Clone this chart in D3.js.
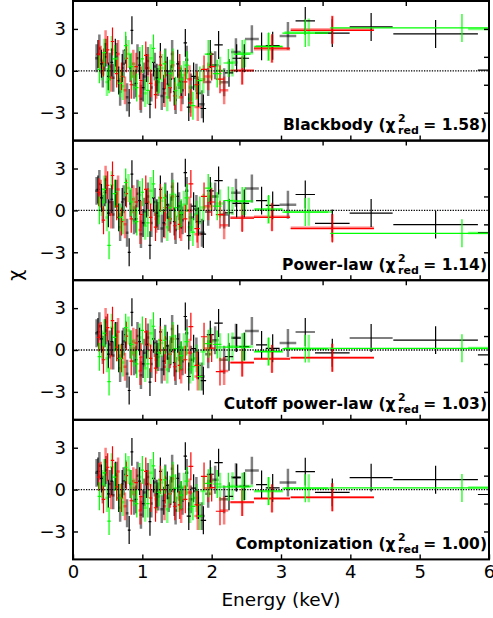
<!DOCTYPE html>
<html>
<head>
<meta charset="utf-8">
<script src="https://cdn.jsdelivr.net/npm/d3@7"></script>
<style>
  body { margin: 0; background: #fff; }
  text { font-family: "DejaVu Sans", sans-serif; }
</style>
</head>
<body>
<svg id="chart" width="493" height="618"></svg>
<script>
// panel labels
const modelNames = ['Blackbody', 'Power-law', 'Cutoff power-law', 'Comptonization']
const chi2red = ['1.58', '1.14', '1.03', '1.00']

// ticks
const xTicks = [0, 1, 2, 3, 4, 5, 6]
const topTicks = [1.2, 2.4, 3.6, 4.8]
const yTicks = [-3, 0, 3]
const rightTicks = [-3, -1, 1, 3]

// black (dark) spectrum: bin centres, half widths, residuals per panel
const blackE = [0.36,0.41,0.46,0.51,0.56,0.61,0.66,0.71,0.76,0.81,0.85,0.91,0.96,1.01,1.06,1.11,1.16,1.21,1.26,1.31,1.36,1.41,1.46,1.51,1.56,1.62,1.67,1.74,1.81,1.88,1.98,2.10,2.25,2.36,2.47,2.72,2.88,3.35,3.74,4.30,5.23,6.45]
const blackW = [0.02,0.02,0.02,0.02,0.02,0.02,0.02,0.02,0.02,0.02,0.02,0.02,0.02,0.02,0.02,0.02,0.02,0.02,0.02,0.02,0.02,0.02,0.02,0.02,0.02,0.025,0.03,0.035,0.035,0.04,0.05,0.06,0.06,0.06,0.07,0.08,0.1,0.14,0.25,0.31,0.61,0.61]
const blackP1 = [1.2,0.5,1.0,-0.4,0.6,1.3,-0.7,0.2,1.5,-2.3,2.9,-0.9,0.4,-1.2,0.2,-2.4,0.6,-0.5,1.0,-1.3,0.0,-0.6,-1.5,0.5,-0.8,2.0,-2.6,-0.4,-1.6,-2.7,1.2,1.85,-0.15,0.9,0.9,1.75,1.8,3.57,2.7,3.14,2.64,0.05]
const blackP2 = [1.5,0.9,1.3,-0.2,0.8,1.2,-0.5,0.6,1.3,-3.0,2.6,-0.6,0.7,-0.9,0.5,-2.5,0.9,-0.2,1.5,-0.9,0.4,0.0,-0.8,1.0,-0.3,2.7,-1.8,0.3,-0.8,-1.7,1.4,2.14,-0.17,0.5,0.5,0.7,0.36,1.14,-0.93,-0.19,-1.02,-1.6]
const blackP3 = [1.3,0.8,1.2,-0.3,0.6,1.0,-0.6,0.4,1.1,-2.9,2.7,-0.7,0.6,-1.0,0.4,-2.3,0.8,-0.3,1.3,-0.8,0.3,-0.1,-0.9,0.8,-0.4,2.4,-1.9,0.1,-1.1,-2.2,1.1,1.93,-0.48,0.86,0.24,0.36,0.12,1.29,-0.2,0.86,0.71,-0.35]
const blackP4 = [1.3,0.8,1.2,-0.3,0.6,1.0,-0.6,0.4,1.1,-2.9,2.7,-0.7,0.6,-1.0,0.4,-2.3,0.8,-0.3,1.3,-0.8,0.3,-0.1,-0.9,0.8,-0.4,2.4,-1.9,0.1,-1.1,-2.2,1.1,1.93,-0.48,0.86,0.24,0.36,0.12,1.29,-0.2,0.86,0.71,-0.35]

// grey (light black)
const greyE = [0.34,0.38,0.43,0.48,0.53,0.58,0.63,0.68,0.73,0.78,0.83,0.88,0.93,0.98,1.03,1.08,1.13,1.18,1.23,1.28,1.33,1.38,1.43,1.48,1.53,1.58,1.64,1.70,1.78,1.86,1.95,2.05,2.18,2.35,2.58,3.10]
const greyW = [0.02,0.02,0.02,0.02,0.02,0.02,0.02,0.02,0.02,0.02,0.02,0.02,0.02,0.02,0.02,0.02,0.02,0.02,0.02,0.02,0.02,0.02,0.02,0.02,0.02,0.02,0.025,0.03,0.035,0.04,0.045,0.05,0.06,0.07,0.1,0.12]
const greyP1 = [0.9,1.6,-0.2,1.3,0.3,-0.5,1.0,-1.5,0.5,-1.9,0.2,-1.0,0.9,-2.0,-0.4,0.7,-1.2,0.3,-0.8,-1.8,0.6,-1.0,1.2,-2.1,-0.3,-1.4,0.8,-1.2,-0.5,-2.4,-0.8,0.4,-0.82,1.34,2.27,2.5]
const greyP2 = [1.4,1.9,0.1,1.5,0.6,-0.3,1.2,-1.2,0.8,-1.6,0.5,-0.7,1.2,-1.7,-0.1,1.0,-0.9,0.6,-0.4,-1.3,1.0,-0.5,1.7,-1.4,0.3,-0.7,1.4,-0.5,0.1,-1.6,-0.1,1.0,-0.3,1.26,1.57,0.4]
const greyP3 = [1.2,1.7,0.0,1.4,0.4,-0.4,1.0,-1.3,0.6,-1.7,0.4,-0.8,1.0,-1.8,-0.2,0.9,-1.0,0.5,-0.5,-1.4,0.8,-0.6,1.5,-1.5,0.2,-0.8,1.2,-0.7,-0.1,-1.9,-0.3,0.7,-0.7,0.88,1.36,0.5]
const greyP4 = [1.2,1.7,0.0,1.4,0.4,-0.4,1.0,-1.3,0.6,-1.7,0.4,-0.8,1.0,-1.8,-0.2,0.9,-1.0,0.5,-0.5,-1.4,0.8,-0.6,1.5,-1.5,0.2,-0.8,1.2,-0.7,-0.1,-1.9,-0.3,0.7,-0.7,0.88,1.36,0.5]

// red (dark)
const redE = [0.37,0.44,0.50,0.57,0.63,0.70,0.77,0.84,0.91,0.98,1.05,1.12,1.19,1.26,1.33,1.40,1.47,1.54,1.62,1.70,1.79,1.89,2.00,2.12,2.44,2.87,3.74]
const redW = [0.025,0.025,0.025,0.025,0.025,0.025,0.025,0.025,0.025,0.025,0.025,0.025,0.025,0.025,0.025,0.025,0.025,0.03,0.03,0.035,0.04,0.045,0.05,0.06,0.17,0.26,0.6]
const redP1 = [1.2,0.6,1.5,2.1,-0.2,-0.4,0.9,-1.0,0.3,-0.7,1.1,-0.9,-1.7,0.4,-0.3,-1.2,-1.8,0.2,-0.8,-2.3,-1.0,0.1,0.3,-0.6,0.04,1.63,2.9]
const redP2 = [1.3,-0.7,1.8,2.5,0.3,-0.8,1.2,-0.6,0.6,-0.3,1.5,-0.5,-1.2,0.9,0.2,-0.6,-1.1,-1.0,-0.6,1.9,-1.3,1.0,0.6,-0.3,-0.55,-0.5,-1.3]
const redP3 = [0.9,-0.7,1.6,2.1,0.2,-0.6,1.0,-0.8,0.5,-0.5,1.3,-0.6,-1.3,0.7,0.0,-0.3,-1.2,-1.1,-0.7,1.67,-1.1,0.95,0.14,-1.55,-0.9,-0.64,-0.55]
const redP4 = [0.9,-0.7,1.6,2.1,0.2,-0.6,1.0,-0.8,0.5,-0.5,1.3,-0.6,-1.3,0.7,0.0,-0.3,-1.2,-1.1,-0.7,1.67,-1.1,0.95,0.14,-1.55,-0.9,-0.64,-0.55]

// light red
const lredE = [0.40,0.47,0.55,0.65,0.75,0.87,0.97,1.08,1.20,1.32,1.44,1.56,1.68,1.80,1.95,2.18,2.44,2.87,3.74]
const lredW = [0.025,0.025,0.025,0.025,0.025,0.025,0.025,0.025,0.025,0.025,0.025,0.03,0.04,0.05,0.06,0.06,0.17,0.26,0.6]
const lredP1 = [0.8,1.9,-0.5,1.2,-1.4,0.5,-1.8,0.2,-1.0,-1.6,0.4,-1.9,-0.6,-2.6,-0.4,-1.4,0.0,1.55,2.95]
const lredP2 = [1.2,2.2,-0.3,1.5,-1.0,0.8,-1.4,0.6,-0.6,-1.0,1.0,-1.2,0.0,-1.7,0.3,-1.07,-0.5,-0.45,-1.25]
const lredP3 = [1.0,2.0,-0.4,1.3,-1.2,0.6,-1.5,0.4,-0.7,-1.2,0.8,-1.4,-0.2,-1.9,0.1,-1.5,-0.9,-0.62,-0.55]
const lredP4 = [1.0,2.0,-0.4,1.3,-1.2,0.6,-1.5,0.4,-0.7,-1.2,0.8,-1.4,-0.2,-1.9,0.1,-1.5,-0.9,-0.62,-0.55]

// green (dark)
const greenE = [0.38,0.45,0.52,0.60,0.68,0.76,0.84,0.92,1.00,1.08,1.16,1.24,1.32,1.40,1.48,1.56,1.64,1.73,1.83,1.95,2.08,2.24,2.44,2.82,3.35,5.61]
const greenW = [0.025,0.025,0.025,0.025,0.025,0.025,0.025,0.025,0.025,0.025,0.025,0.025,0.025,0.025,0.025,0.025,0.03,0.035,0.04,0.05,0.06,0.07,0.12,0.2,0.33,1.9]
const greenP1 = [0.1,1.3,-0.6,0.85,-0.9,1.8,0.3,-1.2,0.85,-1.4,1.6,-0.6,0.5,-0.2,-1.43,-0.6,0.4,-2.5,-0.7,1.2,-0.2,0.56,1.2,1.75,2.7,3.07]
const greenP2 = [0.0,1.5,-2.5,1.2,-0.5,2.0,0.6,-0.8,1.3,-0.9,1.9,0.0,0.9,0.2,0.2,-0.2,0.9,-1.55,0.0,1.6,0.3,0.71,0.67,0.1,-0.12,-1.64]
const greenP3 = [-0.48,1.2,-2.26,0.9,-0.6,1.6,0.4,-1.0,1.4,-1.0,1.7,-0.2,0.7,0.0,0.1,-0.4,0.6,-1.2,-1.9,0.45,0.4,0.2,0.2,-0.1,0.1,0.12]
const greenP4 = [-0.48,1.2,-2.26,0.9,-0.6,1.6,0.4,-1.0,1.4,-1.0,1.7,-0.2,0.7,0.0,0.1,-0.4,0.6,-1.2,-1.9,0.45,0.4,0.2,0.2,-0.1,0.1,0.12]

// light green
const lgreenE = [0.42,0.49,0.56,0.64,0.72,0.80,0.88,0.96,1.04,1.12,1.20,1.28,1.36,1.44,1.52,1.60,1.69,1.78,1.88,1.99,2.12,2.30,2.48,2.82,3.40,6.60]
const lgreenW = [0.025,0.025,0.025,0.025,0.025,0.025,0.025,0.025,0.025,0.025,0.025,0.025,0.025,0.025,0.025,0.03,0.035,0.04,0.045,0.05,0.06,0.08,0.12,0.21,0.35,0.9]
const lgreenP1 = [0.3,-0.8,1.5,0.0,-1.1,1.2,-0.4,0.7,-1.6,0.9,-0.8,0.2,-1.9,0.6,-1.0,-0.3,-2.0,-1.1,-0.6,0.4,0.0,0.6,1.25,1.7,2.75,3.0]
const lgreenP2 = [0.6,-0.5,1.8,0.4,-0.7,1.6,0.0,1.1,-1.1,1.4,-0.3,0.7,-1.2,1.2,-0.4,0.4,-1.2,-0.3,0.2,1.0,0.5,0.67,0.65,0.05,-0.1,-1.62]
const lgreenP3 = [0.4,-0.6,1.6,0.2,-0.9,1.4,-0.2,0.9,-1.3,1.2,-0.5,0.5,-1.4,1.0,-0.6,0.2,-1.4,-0.6,-0.1,0.6,0.2,0.25,0.25,-0.12,0.1,0.15]
const lgreenP4 = [0.4,-0.6,1.6,0.2,-0.9,1.4,-0.2,0.9,-1.3,1.2,-0.5,0.5,-1.4,1.0,-0.6,0.2,-1.4,-0.6,-0.1,0.6,0.2,0.25,0.25,-0.12,0.1,0.15]

// drawing order: light ones under the dark ones
const series = [
  { E: greyE, W: greyW, P: [greyP1, greyP2, greyP3, greyP4], color: '#000000', light: true },
  { E: lredE, W: lredW, P: [lredP1, lredP2, lredP3, lredP4], color: '#ff0000', light: true },
  { E: lgreenE, W: lgreenW, P: [lgreenP1, lgreenP2, lgreenP3, lgreenP4], color: '#00ff00', light: true },
  { E: blackE, W: blackW, P: [blackP1, blackP2, blackP3, blackP4], color: '#000000', light: false },
  { E: redE, W: redW, P: [redP1, redP2, redP3, redP4], color: '#ff0000', light: false },
  { E: greenE, W: greenW, P: [greenP1, greenP2, greenP3, greenP4], color: '#00ff00', light: false }
]

const svg = d3.select('#chart')
const left = 73
const right = 489
const firstTop = 1
const panelH = 139.6

const x = d3.scaleLinear().domain([0, 6]).range([left, right])

function styleAxis (a, size) {
  a.select('.domain').remove()
  a.selectAll('.tick line').attr('stroke', '#000').attr('stroke-width', 1.4)
  a.selectAll('text').attr('font-family', '"DejaVu Sans", sans-serif').attr('font-size', size).attr('fill', '#000')
}

// bold label with chi^2_red built from pieces, right aligned
function drawLabel (g, name, val, xRight, yBase) {
  const lg = g.append('g').attr('font-weight', 'bold').attr('fill', '#000')
  const p1 = lg.append('text').attr('font-size', 15.5).text(name + ' (χ')
  const sup = lg.append('text').attr('font-size', 11).text('2')
  const sub = lg.append('text').attr('font-size', 11).text('red')
  const p2 = lg.append('text').attr('font-size', 15.5).text('= ' + val + ')')
  const w1 = p1.node().getComputedTextLength()
  const ws = Math.max(sup.node().getComputedTextLength(), sub.node().getComputedTextLength())
  const w2 = p2.node().getComputedTextLength()
  const gap = 2.5
  const x0 = xRight - (w1 + ws + w2 + 2 * gap)
  p1.attr('x', x0).attr('y', yBase)
  sup.attr('x', x0 + w1 + gap).attr('y', yBase - 8)
  sub.attr('x', x0 + w1 + gap).attr('y', yBase + 4)
  p2.attr('x', x0 + w1 + ws + 2 * gap + 2).attr('y', yBase)
}

modelNames.forEach((name, i) => {
  const top = firstTop + i * panelH
  const y = d3.scaleLinear().domain([-5, 5]).range([top + panelH, top])
  const g = svg.append('g')

  svg.append('clipPath').attr('id', 'clip' + i)
    .append('rect').attr('x', left).attr('y', top).attr('width', right - left).attr('height', panelH)

  const marks = g.append('g').attr('clip-path', `url(#clip${i})`)

  series.forEach(s => {
    const pts = s.E.map((e, j) => ({ e: e, w: s.W[j], v: s.P[i][j] }))
    const sg = marks.append('g')
      .attr('stroke', s.color)
      .attr('stroke-opacity', s.light ? 0.5 : 1)
      .attr('stroke-width', s.light ? 2.5 : 1.2)
    sg.selectAll('line.v').data(pts).join('line').attr('class', 'v')
      .attr('x1', d => x(d.e)).attr('x2', d => x(d.e))
      .attr('y1', d => y(d.v - 1)).attr('y2', d => y(d.v + 1))
    sg.selectAll('line.h').data(pts).join('line').attr('class', 'h')
      .attr('x1', d => x(d.e - d.w)).attr('x2', d => x(d.e + d.w))
      .attr('y1', d => y(d.v)).attr('y2', d => y(d.v))
  })

  // dotted zero line
  marks.append('line')
    .attr('x1', left).attr('x2', right)
    .attr('y1', y(0)).attr('y2', y(0))
    .attr('stroke', '#000').attr('stroke-width', 1.3)
    .attr('stroke-dasharray', '1.3,1.3')

  // axes, ticks pointing inward
  g.append('g').attr('transform', `translate(${left},0)`)
    .call(d3.axisLeft(y).tickValues(yTicks).tickSizeInner(-5).tickSizeOuter(0).tickPadding(7))
    .call(a => styleAxis(a, 18))
  g.append('g').attr('transform', `translate(${right},0)`)
    .call(d3.axisRight(y).tickValues(rightTicks).tickSizeInner(-5).tickSizeOuter(0).tickFormat(''))
    .call(a => styleAxis(a, 18))
  g.append('g').attr('transform', `translate(0,${top})`)
    .call(d3.axisTop(x).tickValues(topTicks).tickSizeInner(-5).tickSizeOuter(0).tickFormat(''))
    .call(a => styleAxis(a, 18))
  const bottom = d3.axisBottom(x).tickSizeInner(-5).tickSizeOuter(0).tickPadding(6)
  if (i === modelNames.length - 1) {
    bottom.tickValues(xTicks).tickFormat(d3.format('d'))
  } else {
    bottom.tickValues(xTicks.slice(1, -1)).tickFormat('')
  }
  g.append('g').attr('transform', `translate(0,${top + panelH})`)
    .call(bottom)
    .call(a => styleAxis(a, 18))

  // frame
  g.append('rect')
    .attr('x', left).attr('y', top).attr('width', right - left).attr('height', panelH)
    .attr('fill', 'none').attr('stroke', '#000').attr('stroke-width', 2)

  drawLabel(g, name, chi2red[i], 485, top + 129)
})

svg.append('text')
  .attr('x', (left + right) / 2).attr('y', 606)
  .attr('text-anchor', 'middle').attr('font-size', 18.5)
  .text('Energy (keV)')

svg.append('text')
  .attr('transform', `translate(22,${firstTop + 2 * panelH - 5}) rotate(-90)`)
  .attr('text-anchor', 'middle').attr('font-size', 19)
  .text('χ')
</script>
</body>
</html>
